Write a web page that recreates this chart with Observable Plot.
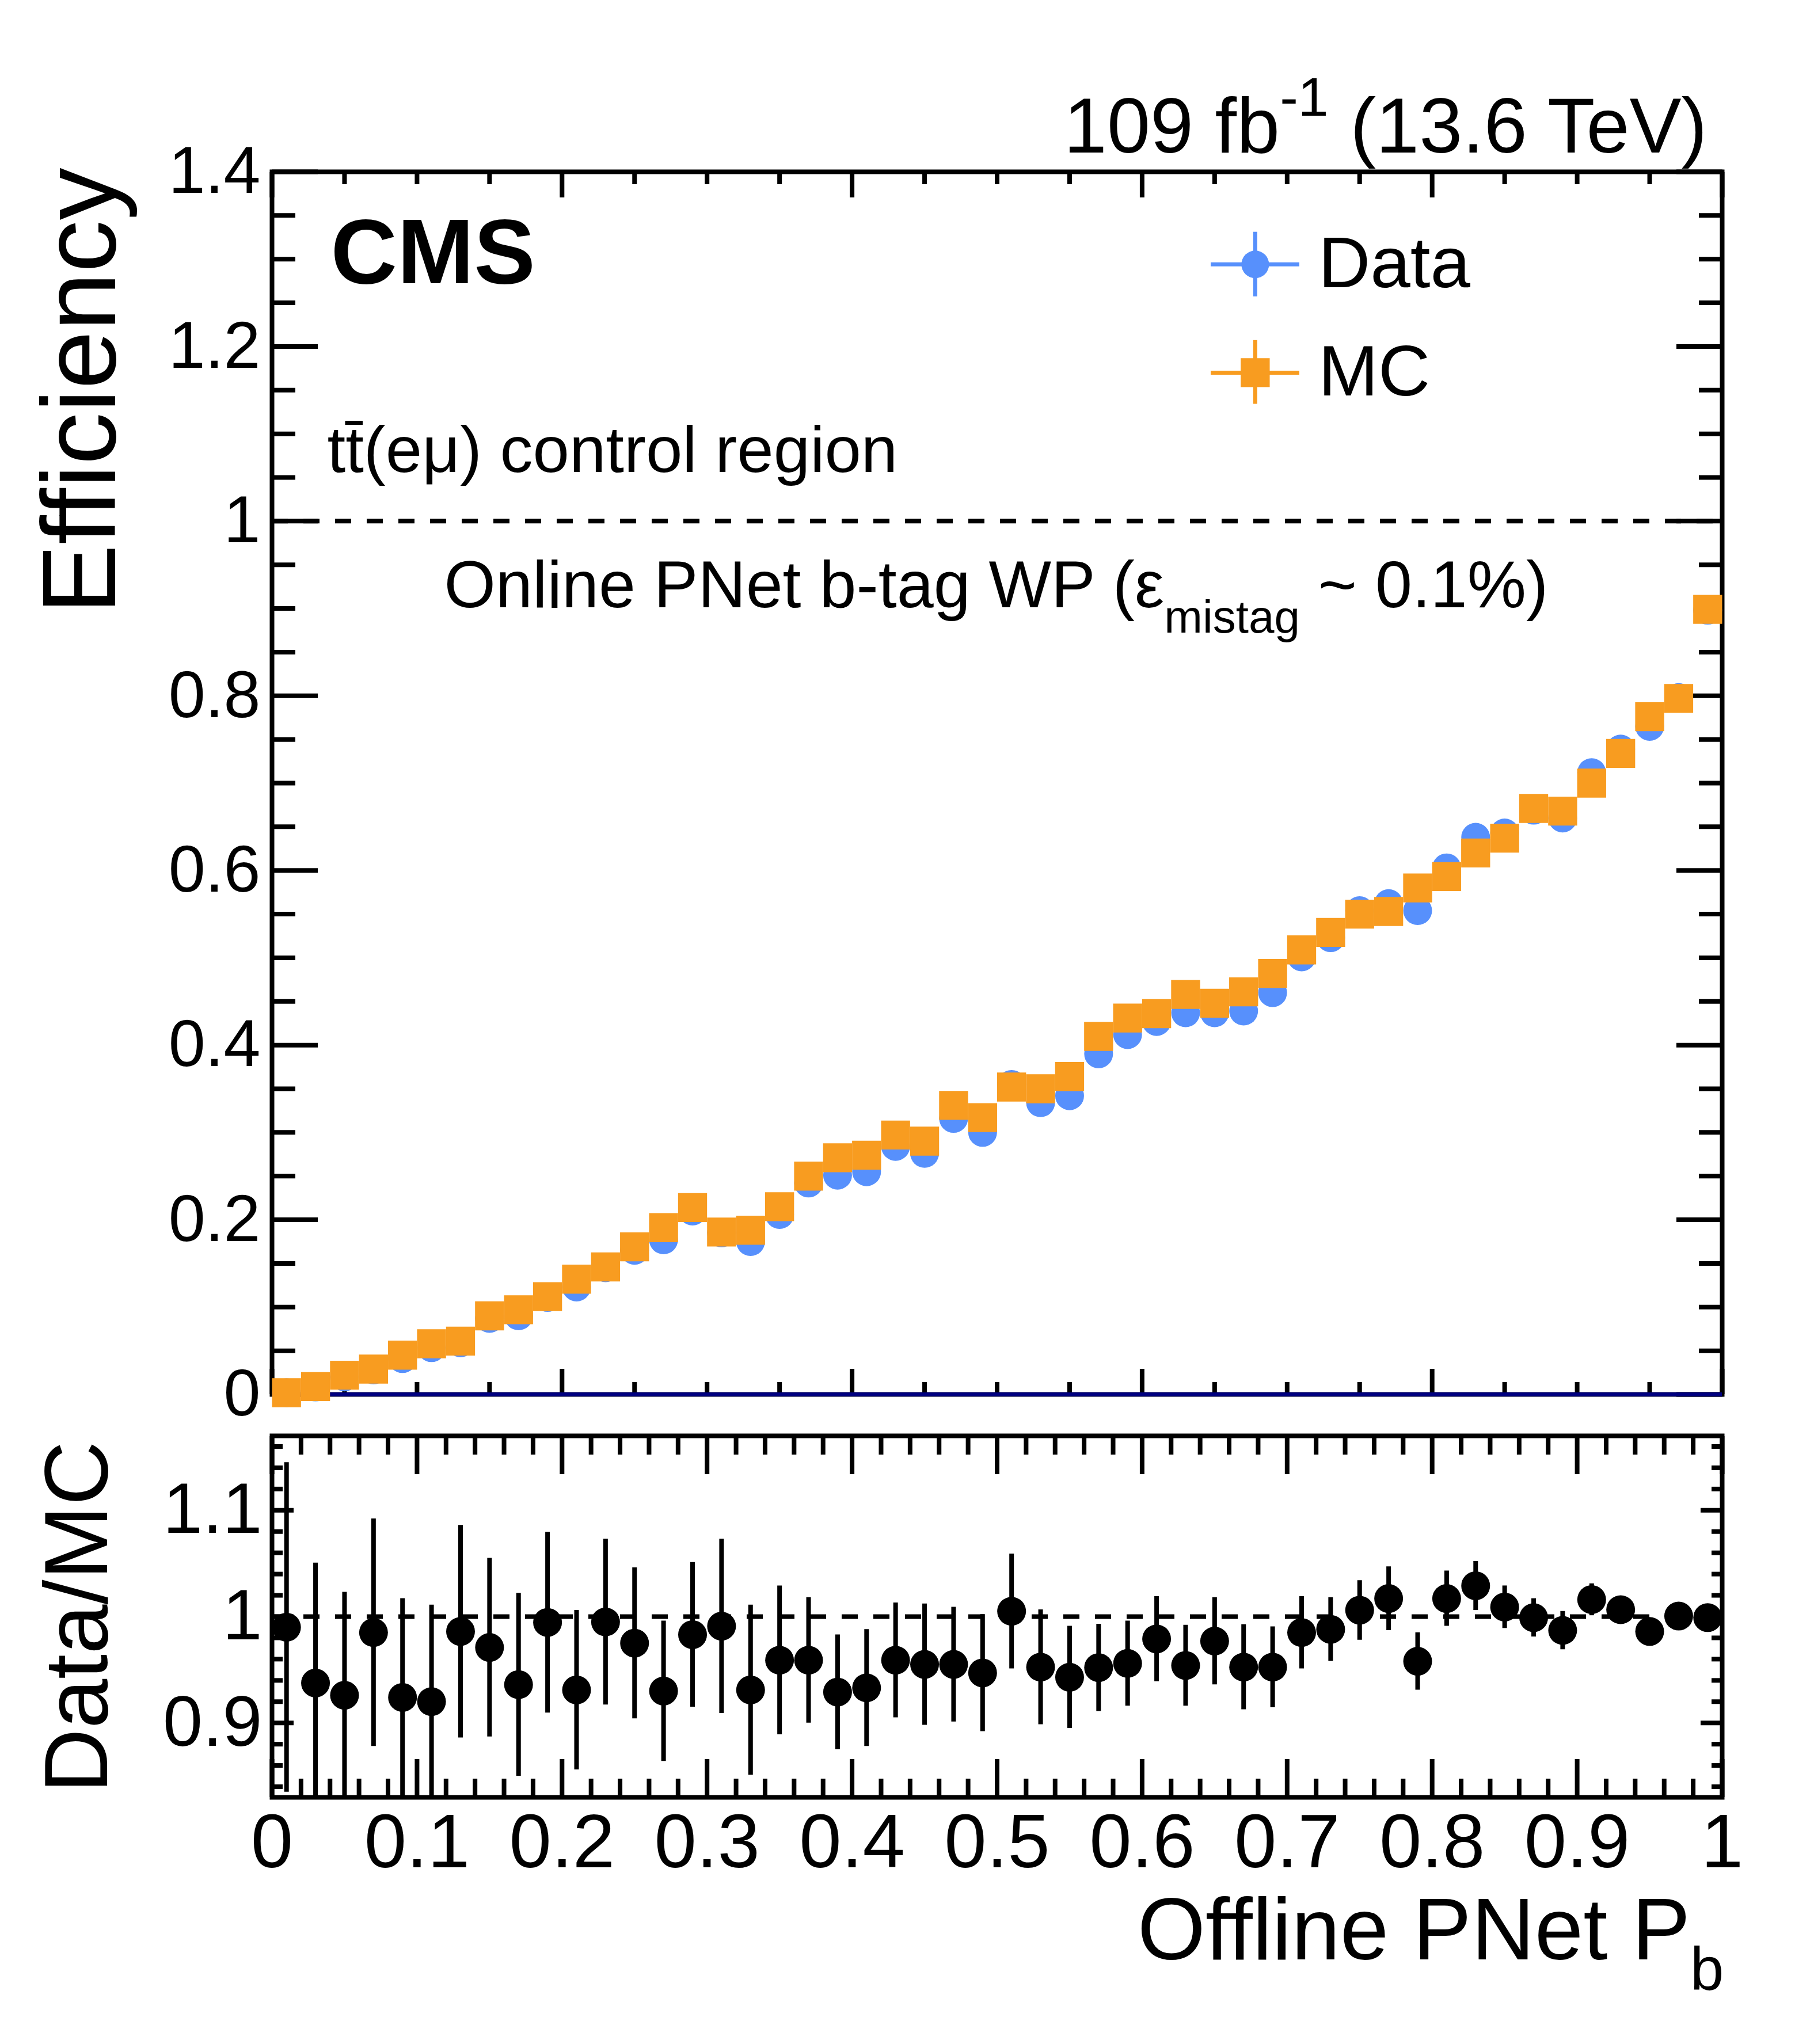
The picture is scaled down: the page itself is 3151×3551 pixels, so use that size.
<!DOCTYPE html>
<html>
<head>
<meta charset="utf-8">
<script src="https://cdn.jsdelivr.net/npm/d3@7"></script>
<script src="https://cdn.jsdelivr.net/npm/@observablehq/plot@0.6"></script>
<style>
  html, body { margin: 0; padding: 0; background: white; }
  #chart { position: relative; width: 3151px; height: 3551px; background: white; }
  #chart svg { display: block; overflow: visible; }
</style>
</head>
<body>
<div id="chart"></div>
<script>
// ---------------- data ----------------
const binCenters = [0.01,0.03,0.05,0.07,0.09,0.11,0.13,0.15,0.17,0.19,
                    0.21,0.23,0.25,0.27,0.29,0.31,0.33,0.35,0.37,0.39,
                    0.41,0.43,0.45,0.47,0.49,0.51,0.53,0.55,0.57,0.59,
                    0.61,0.63,0.65,0.67,0.69,0.71,0.73,0.75,0.77,0.79,
                    0.81,0.83,0.85,0.87,0.89,0.91,0.93,0.95,0.97,0.99];
const effMC = [0.002,0.009,0.022,0.029,0.045,0.058,0.061,0.090,0.097,0.112,
               0.132,0.146,0.169,0.191,0.214,0.186,0.188,0.215,0.250,0.271,
               0.274,0.297,0.290,0.331,0.317,0.352,0.350,0.364,0.410,0.431,
               0.436,0.458,0.448,0.461,0.482,0.509,0.529,0.550,0.553,0.580,
               0.593,0.620,0.637,0.671,0.668,0.700,0.734,0.776,0.797,0.899];
const effData = [0.002,0.0085,0.020,0.028,0.041,0.0535,0.059,0.087,0.090,0.111,
                 0.123,0.145,0.165,0.177,0.210,0.185,0.175,0.206,0.242,0.251,
                 0.255,0.284,0.276,0.316,0.300,0.355,0.334,0.342,0.390,0.412,
                 0.427,0.437,0.437,0.439,0.460,0.501,0.523,0.554,0.562,0.554,
                 0.603,0.638,0.643,0.669,0.660,0.712,0.739,0.765,0.798,0.898];
const ratio = [0.990,0.9375,0.926,0.985,0.924,0.920,0.986,0.971,0.936,0.9945,
               0.931,0.995,0.975,0.930,0.983,0.991,0.931,0.959,0.959,0.929,
               0.933,0.959,0.955,0.955,0.947,1.005,0.9525,0.943,0.952,0.956,
               0.979,0.954,0.977,0.9525,0.9525,0.985,0.988,1.006,1.017,0.958,
               1.017,1.029,1.009,0.999,0.987,1.016,1.0065,0.986,1.0005,0.999];
const ratioErr = [0.155,0.113,0.097,0.107,0.093,0.091,0.100,0.084,0.086,0.085,
                  0.075,0.078,0.071,0.066,0.068,0.082,0.080,0.070,0.059,0.054,
                  0.055,0.054,0.057,0.054,0.055,0.054,0.054,0.048,0.041,0.040,
                  0.040,0.038,0.041,0.040,0.038,0.034,0.030,0.028,0.030,0.027,
                  0.026,0.023,0.020,0.018,0.018,0.015,0.010,0.010,0.010,0.010];

// tick values / labels
const mainYMajor = [0,0.2,0.4,0.6,0.8,1,1.2,1.4];
const mainYMinor = [0.05,0.1,0.15,0.25,0.3,0.35,0.45,0.5,0.55,0.65,0.7,0.75,0.85,0.9,0.95,1.05,1.1,1.15,1.25,1.3,1.35];
const mainXMajor = [0,0.2,0.4,0.6,0.8,1];
const mainXMinor = [0.05,0.1,0.15,0.25,0.3,0.35,0.45,0.5,0.55,0.65,0.7,0.75,0.85,0.9,0.95];
const ratioXMajor = [0,0.1,0.2,0.3,0.4,0.5,0.6,0.7,0.8,0.9,1];
const ratioXMinor = [0.02,0.04,0.06,0.08,0.12,0.14,0.16,0.18,0.22,0.24,0.26,0.28,0.32,0.34,0.36,0.38,
                     0.42,0.44,0.46,0.48,0.52,0.54,0.56,0.58,0.62,0.64,0.66,0.68,0.72,0.74,0.76,0.78,
                     0.82,0.84,0.86,0.88,0.92,0.94,0.96,0.98];
const ratioYMajor = [0.9,1,1.1];
const ratioYMinor = [0.84,0.86,0.88,0.92,0.94,0.96,0.98,1.02,1.04,1.06,1.08,1.12,1.14,1.16];

const legendItems = ["Data","MC"];

// ---------------- style ----------------
const FONT = "'Liberation Sans', Arial, Helvetica, sans-serif";
const BLUE = "#5790fc", ORANGE = "#f89c20", NAVY = "#000080";
const fmt = d => String(+(+d).toFixed(2));
const blank = () => "";
const LW = 8;

const rows = binCenters.map((x, i) => ({x, data: effData[i], mc: effMC[i], r: ratio[i], e: ratioErr[i]}));

function inTicks(axis, values, size, anchors, sw = LW) {
  return anchors.map(anchor => axis(values, {anchor, tickSize: -size, tickFormat: blank, label: null, strokeWidth: sw}));
}

const W = 3151, L = 472, R = W - 2991;

// ---------------- main panel ----------------
const mainPlot = Plot.plot({
  width: W, height: 2470,
  marginTop: 298, marginLeft: L, marginRight: R, marginBottom: 48,
  x: {domain: [0, 1]},
  y: {domain: [0, 1.4]},
  style: {fontFamily: FONT, background: "transparent", overflow: "visible", maxWidth: "none"},
  marks: [
    Plot.frame({strokeWidth: LW}),
    ...inTicks(Plot.axisY, mainYMajor, 80, ["left", "right"]),
    ...inTicks(Plot.axisY, mainYMinor, 41, ["left", "right"]),
    ...inTicks(Plot.axisX, mainXMajor, 44, ["top", "bottom"]),
    ...inTicks(Plot.axisX, mainXMinor, 21, ["top", "bottom"]),
    Plot.axisY(mainYMajor, {anchor: "left", tickSize: 0, tickPadding: 20, fontSize: 115, tickFormat: fmt, label: null}),
    Plot.ruleY([0], {stroke: NAVY, strokeWidth: 7}),
    Plot.ruleY([1], {strokeWidth: LW, strokeDasharray: "28,27"}),
    Plot.dot(rows, {x: "x", y: "data", r: 25, fill: BLUE}),
    Plot.dot(rows, {x: "x", y: "mc", r: 28.4, symbol: "square", fill: ORANGE}),
    // legend
    Plot.ruleY([1.294], {x1: 0.6475, x2: 0.7086, stroke: BLUE, strokeWidth: 7}),
    Plot.ruleX([0.678], {y1: 1.257, y2: 1.331, stroke: BLUE, strokeWidth: 7}),
    Plot.dot([0], {x: () => 0.678, y: () => 1.294, r: 24, fill: BLUE}),
    Plot.ruleY([1.170], {x1: 0.6475, x2: 0.7086, stroke: ORANGE, strokeWidth: 7}),
    Plot.ruleX([0.678], {y1: 1.134, y2: 1.207, stroke: ORANGE, strokeWidth: 7}),
    Plot.dot([0], {x: () => 0.678, y: () => 1.170, r: 28.4, symbol: "square", fill: ORANGE}),
    Plot.text([legendItems[0]], {x: () => 0.7215, y: () => 1.294, text: d => d, textAnchor: "start", lineAnchor: "middle", fontSize: 125}),
    Plot.text([legendItems[1]], {x: () => 0.7215, y: () => 1.170, text: d => d, textAnchor: "start", lineAnchor: "middle", fontSize: 125}),
    // annotations
    Plot.text(["CMS"], {frameAnchor: "top-left", dx: 102, dy: 193, text: d => d, textAnchor: "start", lineAnchor: "bottom", fontSize: 160, fontWeight: "bold"}),
    Plot.text(["t\u0074\u0304(e\u03bc) control region"], {frameAnchor: "top-left", dx: 96, dy: 521, text: d => d, textAnchor: "start", lineAnchor: "bottom", fontSize: 114}),
    Plot.text(["@@WP@@"], {frameAnchor: "top-left", dx: 299, dy: 756, text: d => d, textAnchor: "start", lineAnchor: "bottom", fontSize: 115}),
    Plot.text(["@@LUMI@@"], {frameAnchor: "top-right", dx: -26, dy: -34, text: d => d, textAnchor: "end", lineAnchor: "bottom", fontSize: 135}),
    Plot.text(["Efficiency"], {frameAnchor: "top-left", dx: -273, dy: -7, rotate: -90, text: d => d, textAnchor: "end", lineAnchor: "bottom", fontSize: 182})
  ]
});

// ---------------- ratio panel ----------------
const ratioPlot = Plot.plot({
  width: W, height: 1081,
  marginTop: 24, marginLeft: L, marginRight: R, marginBottom: 429,
  x: {domain: [0, 1]},
  y: {domain: [0.83, 1.17]},
  style: {fontFamily: FONT, background: "transparent", overflow: "visible", maxWidth: "none"},
  marks: [
    Plot.frame({strokeWidth: LW}),
    ...inTicks(Plot.axisY, ratioYMajor, 38, ["left", "right"]),
    ...inTicks(Plot.axisY, ratioYMinor, 19, ["left", "right"]),
    ...inTicks(Plot.axisX, ratioXMajor, 66, ["top", "bottom"]),
    ...inTicks(Plot.axisX, ratioXMinor, 32, ["top", "bottom"]),
    Plot.axisY(ratioYMajor, {anchor: "left", tickSize: 0, tickPadding: 17, fontSize: 124, tickFormat: fmt, label: null}),
    Plot.axisX(ratioXMajor, {anchor: "bottom", tickSize: 0, tickPadding: 28, fontSize: 132, tickFormat: fmt, label: null}),
    Plot.ruleY([1], {strokeWidth: LW, strokeDasharray: "28,27"}),
    Plot.ruleX(rows, {x: "x", y1: d => d.r - d.e, y2: d => d.r + d.e, strokeWidth: 8, clip: true}),
    Plot.dot(rows, {x: "x", y: "r", r: 25, fill: "black"}),
    Plot.text(["Data/MC"], {frameAnchor: "top-left", dx: -287, dy: 9, rotate: -90, text: d => d, textAnchor: "end", lineAnchor: "bottom", fontSize: 155}),
    Plot.text(["@@XTITLE@@"], {frameAnchor: "bottom-right", dx: 3, dy: 281, text: d => d, textAnchor: "end", lineAnchor: "bottom", fontSize: 152})
  ]
});

const chart = document.getElementById("chart");
chart.appendChild(mainPlot);
chart.appendChild(ratioPlot);

// rich text (superscripts / subscripts) as tspans
function setRich(root, placeholder, parts) {
  d3.select(root).selectAll("text")
    .filter(function() { return this.textContent === placeholder; })
    .each(function() {
      const t = d3.select(this);
      t.text(null);
      for (const p of parts) {
        const s = t.append("tspan").text(p.t);
        if (p.size) s.attr("font-size", p.size);
        if (p.dy) s.attr("dy", p.dy);
      }
    });
}
setRich(mainPlot, "@@LUMI@@", [
  {t: "109 fb"}, {t: "-1", size: 95, dy: -64}, {t: " (13.6 TeV)", size: 135, dy: 64}
]);
setRich(mainPlot, "@@WP@@", [
  {t: "Online PNet b-tag WP (\u03b5"}, {t: "mistag", size: 80, dy: 44}, {t: " ~ 0.1%)", size: 115, dy: -44}
]);
setRich(ratioPlot, "@@XTITLE@@", [
  {t: "Offline PNet P"}, {t: "b", size: 105, dy: 53}
]);
</script>
</body>
</html>
